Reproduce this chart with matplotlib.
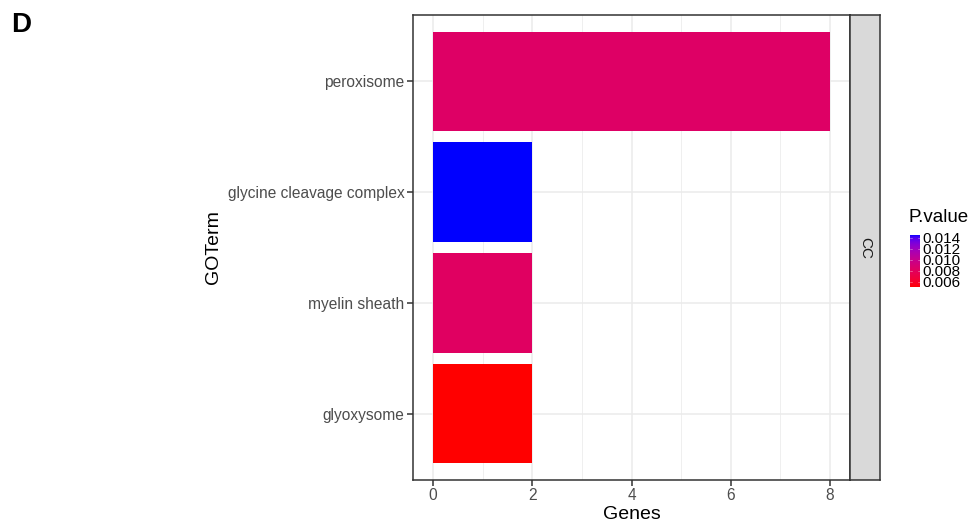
import numpy as np
import matplotlib
matplotlib.use("Agg")
import matplotlib.pyplot as plt
from matplotlib.colors import ListedColormap, Normalize

plt.rcParams['font.family'] = ['Liberation Sans', 'DejaVu Sans']

# GO cellular component terms, top to bottom
terms = ["peroxisome", "glycine cleavage complex", "myelin sheath", "glyoxysome"]
genes = [8, 2, 2, 2]
pvals = [0.0083, 0.01455, 0.0081, 0.0050]
cbar_ticks = [0.006, 0.008, 0.010, 0.012, 0.014]
category = "CC"


# red -> blue gradient interpolated in CIELAB
def srgb_to_lab(rgb):
    rgb = np.asarray(rgb, float)
    lin = np.where(rgb <= 0.04045, rgb / 12.92, ((rgb + 0.055) / 1.055) ** 2.4)
    m = np.array([[0.4124, 0.3576, 0.1805],
                  [0.2126, 0.7152, 0.0722],
                  [0.0193, 0.1192, 0.9505]])
    xyz = m @ lin / np.array([0.95047, 1.0, 1.08883])
    f = np.where(xyz > 0.008856, np.cbrt(xyz), 7.787 * xyz + 16 / 116)
    return np.array([116 * f[1] - 16, 500 * (f[0] - f[1]), 200 * (f[1] - f[2])])


def lab_to_srgb(lab):
    L, a, b = lab
    fy = (L + 16) / 116
    fx = fy + a / 500
    fz = fy - b / 200
    f = np.array([fx, fy, fz])
    xyz = np.where(f ** 3 > 0.008856, f ** 3, (f - 16 / 116) / 7.787)
    xyz = xyz * np.array([0.95047, 1.0, 1.08883])
    minv = np.array([[3.2406, -1.5372, -0.4986],
                     [-0.9689, 1.8758, 0.0415],
                     [0.0557, -0.2040, 1.0570]])
    lin = minv @ xyz
    lin = np.clip(lin, 0, 1)
    rgb = np.where(lin <= 0.0031308, 12.92 * lin, 1.055 * lin ** (1 / 2.4) - 0.055)
    return np.clip(rgb, 0, 1)


lab_lo = srgb_to_lab([1, 0, 0])
lab_hi = srgb_to_lab([0, 0, 1])
cmap = ListedColormap([lab_to_srgb(lab_lo + t * (lab_hi - lab_lo)) for t in np.linspace(0, 1, 256)])
norm = Normalize(vmin=min(pvals), vmax=max(pvals))

W, H = 973, 526
fig = plt.figure(figsize=(W / 100, H / 100), dpi=100)


def box(x0, y0, x1, y1):
    return [x0 / W, 1 - y1 / H, (x1 - x0) / W, (y1 - y0) / H]


ax = fig.add_axes(box(413, 15, 850, 480))
ypos = np.arange(len(terms))[::-1]
ax.barh(ypos, genes, height=0.9, color=cmap(norm(pvals)), zorder=3)

ax.set_xlim(-0.4, 8.4)
ax.set_ylim(-0.6, len(terms) - 0.4)
ax.set_xticks([0, 2, 4, 6, 8])
ax.set_xticks([1, 3, 5, 7], minor=True)
ax.set_yticks(ypos)
ax.set_yticklabels(terms)
ax.grid(which='major', color='#EBEBEB', linewidth=1.1, zorder=0)
ax.grid(which='minor', axis='x', color='#EBEBEB', linewidth=0.55, zorder=0)
ax.tick_params(which='major', length=4, width=1.1, color='#333333',
               labelcolor='#4D4D4D', labelsize=11.2, pad=2)
ax.tick_params(which='minor', length=0)
for s in ax.spines.values():
    s.set_color('#333333')
    s.set_linewidth(1.1)
ax.set_xlabel("Genes", fontsize=14, color='black', labelpad=2)
ax.set_ylabel("GOTerm", fontsize=14, color='black', labelpad=4)

# facet strip on the right
strip = fig.add_axes(box(850, 15, 880, 480))
strip.set_facecolor('#D9D9D9')
strip.set_xticks([])
strip.set_yticks([])
for s in strip.spines.values():
    s.set_color('#333333')
    s.set_linewidth(1.1)
strip.text(0.5, 0.5, category, rotation=-90, ha='center', va='center',
           fontsize=11, color='#1A1A1A', transform=strip.transAxes)

# colour bar legend
cax = fig.add_axes(box(910, 235, 920, 287))
grad = np.linspace(min(pvals), max(pvals), 256).reshape(-1, 1)
cax.imshow(grad, aspect='auto', cmap=cmap, norm=norm, origin='lower',
           extent=[0, 1, min(pvals), max(pvals)])
cax.set_xticks([])
cax.yaxis.tick_right()
cax.set_yticks(cbar_ticks)
cax.set_yticklabels([f"{v:.3f}" for v in cbar_ticks])
cax.tick_params(axis='y', length=0, labelsize=11, pad=2, labelcolor='black')
for t in cbar_ticks:
    cax.plot([0, 0.2], [t, t], color='white', lw=0.4, alpha=0.6)
    cax.plot([0.8, 1], [t, t], color='white', lw=0.4, alpha=0.6)
cax.set_xlim(0, 1)
cax.set_ylim(min(pvals), max(pvals))
for s in cax.spines.values():
    s.set_visible(False)
fig.text(908 / W, 1 - 217 / H, "P.value", fontsize=13.5, ha='left', va='center')

fig.text(11 / W, 1 - 25 / H, "D", fontsize=20, fontweight='bold', ha='left', va='center')

fig.savefig("out.png", dpi=100)
